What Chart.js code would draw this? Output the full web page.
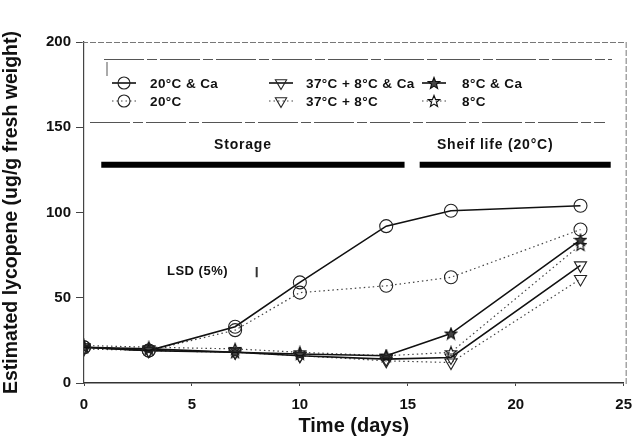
<!DOCTYPE html>
<html>
<head>
<meta charset="utf-8">
<script src="https://cdn.jsdelivr.net/npm/chart.js@4"></script>
<style>
html,body{margin:0;padding:0;background:#fff;}
#wrap{width:642px;height:438px;position:relative;}
</style>
</head>
<body>
<div id="wrap"><canvas id="c" width="642" height="438"></canvas></div>
<script>
const days = [0, 3, 7, 10, 14, 17, 23];
const s20Ca   = [21, 19, 33, 59, 92, 101, 104];
const s20     = [21, 19, 31, 53, 57, 62, 90];
const s378Ca  = [21, 19, 18, 16, 14, 15, 69];
const s378    = [20, 19, 18, 16, 13, 12, 61];
const s8Ca    = [21, 20, 18, 17, 16, 29, 84];
const s8      = [22, 21, 20, 18, 16, 18, 81];
const xTicks = [0, 5, 10, 15, 20, 25];
const yTicks = [0, 50, 100, 150, 200];
const lsdDay = 8, lsdLow = 62, lsdHigh = 68;
const phaseLabels = ['Storage', 'Sheif life (20°C)'];
const phaseStart = [0.8, 15.55];
const phaseEnd = [14.85, 24.4];
const phaseLevel = 128;
const seriesLabels = ['20°C & Ca', '20°C', '37°C + 8°C & Ca', '37°C + 8°C', '8°C & Ca', '8°C'];

function starImg(filled) {
  const c = document.createElement('canvas');
  c.width = 14; c.height = 14;
  const g = c.getContext('2d');
  g.beginPath();
  for (let i = 0; i < 10; i++) {
    const r = i % 2 === 0 ? 6 : 2.6;
    const a = -Math.PI / 2 + i * Math.PI / 5;
    const px = 7 + r * Math.cos(a), py = 7.5 + r * Math.sin(a);
    if (i === 0) g.moveTo(px, py); else g.lineTo(px, py);
  }
  g.closePath();
  g.lineWidth = 1.2;
  g.strokeStyle = '#111';
  if (filled) { g.fillStyle = '#444'; g.fill(); }
  g.stroke();
  return c;
}
const starSolid = starImg(true);
const starOpen = starImg(false);

const toXY = arr => arr.map((v, i) => ({x: days[i], y: v}));
const solidDash = [];
const dotDash = [1.5, 3];

function lineDs(label, data, dashed, pstyle, rot) {
  return {
    label: label, data: toXY(data),
    borderColor: dashed ? '#444' : '#111',
    borderWidth: dashed ? 1.2 : 1.6,
    borderDash: dashed ? dotDash : solidDash,
    pointStyle: pstyle, rotation: rot || 0,
    pointRadius: pstyle === 'triangle' ? 7 : 6.5,
    pointBackgroundColor: 'rgba(255,255,255,0)',
    pointBorderColor: '#222', pointBorderWidth: 1.1,
    tension: 0, fill: false
  };
}

const datasets = [
  lineDs(seriesLabels[0], s20Ca, false, 'circle'),
  lineDs(seriesLabels[1], s20, true, 'circle'),
  lineDs(seriesLabels[2], s378Ca, false, 'triangle', 180),
  lineDs(seriesLabels[3], s378, true, 'triangle', 180),
  lineDs(seriesLabels[4], s8Ca, false, starSolid),
  lineDs(seriesLabels[5], s8, true, starOpen),
  { label: 'LSD', data: [{x: lsdDay, y: lsdLow}, {x: lsdDay, y: lsdHigh}],
    borderColor: '#333', borderWidth: 2, pointRadius: 0 },
  { label: 'phase1', data: [{x: phaseStart[0], y: phaseLevel}, {x: phaseEnd[0], y: phaseLevel}],
    borderColor: '#000', borderWidth: 6, pointRadius: 0 },
  { label: 'phase2', data: [{x: phaseStart[1], y: phaseLevel}, {x: phaseEnd[1], y: phaseLevel}],
    borderColor: '#000', borderWidth: 6, pointRadius: 0 }
];

const FONT = '"Liberation Sans", Arial, sans-serif';

const decor = {
  id: 'decor',
  afterDatasetsDraw(chart) {
    const {ctx, chartArea: ca, scales: {x, y}} = chart;
    ctx.save();
    // frame top and right (faint dashed)
    ctx.strokeStyle = '#777'; ctx.lineWidth = 1; ctx.setLineDash([6, 2]);
    ctx.beginPath();
    ctx.moveTo(ca.left - 2, ca.top + 0.5); ctx.lineTo(ca.right + 2, ca.top + 0.5);
    ctx.moveTo(ca.right + 2.5, ca.top); ctx.lineTo(ca.right + 2.5, ca.bottom + 2);
    ctx.stroke();
    // legend frame
    ctx.strokeStyle = '#555'; ctx.setLineDash([40, 3, 10, 3]);
    ctx.beginPath();
    ctx.moveTo(104, 59.5); ctx.lineTo(612, 59.5);
    ctx.moveTo(90, 122.5); ctx.lineTo(605, 122.5);
    ctx.stroke();
    ctx.setLineDash([]);
    ctx.strokeStyle = '#aaa'; ctx.lineWidth = 2;
    ctx.beginPath(); ctx.moveTo(107, 62); ctx.lineTo(107, 76); ctx.stroke();

    // legend entries
    const cols = [[124, 150], [281, 306], [434, 462]];
    const rows = [83, 101];
    ctx.textBaseline = 'middle';
    for (let i = 0; i < 6; i++) {
      const col = cols[Math.floor(i / 2)], row = rows[i % 2];
      const ds = chart.data.datasets[i];
      ctx.save();
      ctx.strokeStyle = ds.borderColor; ctx.lineWidth = ds.borderWidth;
      ctx.setLineDash(ds.borderDash);
      ctx.beginPath(); ctx.moveTo(col[0] - 12, row); ctx.lineTo(col[0] + 12, row); ctx.stroke();
      ctx.restore();
      ctx.save();
      ctx.fillStyle = 'rgba(255,255,255,0)';
      ctx.strokeStyle = '#222';
      ctx.lineWidth = 1.1;
      Chart.helpers.drawPoint(ctx, {
        pointStyle: ds.pointStyle, rotation: ds.rotation,
        radius: ds.pointStyle === 'triangle' ? 6.5 : 6, borderWidth: 1.1
      }, col[0], row);
      ctx.restore();
      ctx.fillStyle = '#111';
      ctx.font = 'bold 13.5px ' + FONT;
      ctx.letterSpacing = '0.4px';
      ctx.fillText(ds.label, col[1], row + 1);
    }
    // phase labels
    ctx.font = 'bold 14px ' + FONT;
    ctx.letterSpacing = '0.8px';
    ctx.textAlign = 'center';
    ctx.fillStyle = '#111';
    for (let i = 0; i < 2; i++) {
      const cx = (x.getPixelForValue(phaseStart[i]) + x.getPixelForValue(phaseEnd[i])) / 2;
      ctx.fillText(phaseLabels[i], i === 0 ? cx - 10 : cx - 20, y.getPixelForValue(phaseLevel) - 20);
    }
    // LSD label
    ctx.textAlign = 'left';
    ctx.font = 'bold 13px ' + FONT;
    ctx.letterSpacing = '0.5px';
    ctx.fillText('LSD (5%)', 167, y.getPixelForValue((lsdLow + lsdHigh) / 2) - 1);
    ctx.restore();
  }
};

new Chart(document.getElementById('c'), {
  type: 'line',
  data: { datasets },
  plugins: [decor],
  options: {
    responsive: false, animation: false,
    layout: { padding: { left: 0, top: 42, right: 13, bottom: 0 } },
    plugins: { legend: { display: false }, tooltip: { enabled: false } },
    scales: {
      x: {
        type: 'linear', min: 0, max: 25,
        afterBuildTicks: s => { s.ticks = xTicks.map(v => ({value: v})); },
        afterFit: s => { s.height = 55; },
        grid: { display: true, drawOnChartArea: false, tickLength: 3, color: '#444' },
        border: { color: '#333', width: 1.5 },
        ticks: { color: '#111', font: { family: FONT, size: 15, weight: 'bold' }, padding: 10 },
        title: { display: true, text: 'Time (days)', color: '#111',
          font: { family: FONT, size: 20, weight: 'bold' }, padding: { top: 0, bottom: 0 } }
      },
      y: {
        min: 0, max: 200,
        afterBuildTicks: s => { s.ticks = yTicks.map(v => ({value: v})); },
        afterFit: s => { s.width = 84; },
        grid: { display: true, drawOnChartArea: false, tickLength: 8, color: '#444' },
        border: { color: '#444', width: 1.2 },
        ticks: { color: '#111', font: { family: FONT, size: 15, weight: 'bold' }, padding: 5 },
        title: { display: true, text: 'Estimated lycopene (ug/g fresh weight)', color: '#111',
          font: { family: FONT, size: 19.5, weight: 'bold' }, padding: { top: 0, bottom: 0 } }
      }
    }
  }
});
</script>
</body>
</html>
